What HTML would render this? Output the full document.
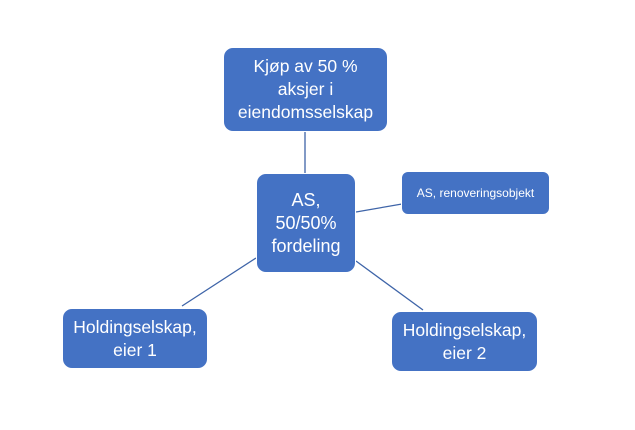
<!DOCTYPE html>
<html><head><style>
body{margin:0;width:635px;height:430px;background:#fff;position:relative;overflow:hidden;font-family:"Liberation Sans",sans-serif}
.b{position:absolute;background:#4472C4;border:1px solid #fff;box-sizing:border-box;border-radius:10px;color:#fff;display:flex;align-items:center;justify-content:center;text-align:center;font-size:17.5px;line-height:23px}
</style></head><body>
<svg width="635" height="430" style="position:absolute;left:0;top:0">
<g stroke="#3E64A8" stroke-width="1.3">
<line x1="305" y1="131" x2="305" y2="174"/>
<line x1="356" y1="212" x2="402" y2="204"/>
<line x1="256" y1="258" x2="182" y2="306"/>
<line x1="356" y1="261" x2="423" y2="310"/>
</g></svg>
<div class="b" style="left:223px;top:47px;width:165px;height:85px">Kjøp av 50 %<br>aksjer i<br>eiendomsselskap</div>
<div class="b" style="left:256px;top:173px;width:100px;height:100px;font-size:18px">AS,<br>50/50%<br>fordeling</div>
<div class="b" style="left:401px;top:171px;width:149px;height:44px;font-size:12px;border-radius:7px">AS, renoveringsobjekt</div>
<div class="b" style="left:62px;top:308px;width:146px;height:61px">Holdingselskap,<br>eier 1</div>
<div class="b" style="left:391px;top:311px;width:147px;height:61px">Holdingselskap,<br>eier 2</div>
</body></html>
